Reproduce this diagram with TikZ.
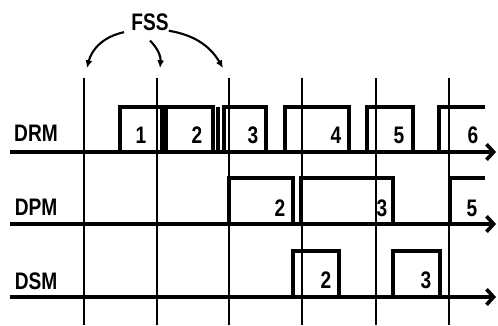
\documentclass[tikz,border=0pt]{standalone}
\usepackage{fontspec}
\setmainfont{Liberation Sans}[FakeStretch=0.8]
\usetikzlibrary{arrows.meta}

\begin{document}
\begin{tikzpicture}[x=0.025cm,y=0.025cm,
  every node/.style={font=\fontsize{17}{17}\selectfont\bfseries,inner sep=0pt},
  sig/.style={line width=2.6pt},
  gridline/.style={line width=1.3pt},
  axis/.style={line width=2.6pt,-{Straight Barb[length=5pt,width=11pt]}},
  fssarrow/.style={line width=1.5pt,-{Latex[length=5.5pt,width=5pt]}}]
\useasboundingbox (0,0) rectangle (498,-325);
%frame boundaries
\foreach \x in {84,157,229,302,376,449} \draw[gridline] (\x,-78)--(\x,-325);
\path (150,-22) node(fss){FSS}
(36,-133) node(drm){DRM}
(36,-207) node(dpm){DPM}
(36,-281) node(dsm){DSM};
\coordinate (f1) at (87,-68);
\coordinate (f2) at (160,-68);
\coordinate (f3) at (223,-68);
\draw[fssarrow]([xshift=-5pt,yshift=-1pt]fss.south west) to[bend right=32] (f1);
\draw[fssarrow]([yshift=-7pt]fss.south) to[bend left=25] (f2);
\draw[fssarrow](fss.south east) to[bend left=25] (f3);
%DRM
\foreach \a/\b/\n/\t in {120/162/1/141,166/213/2/197,224/266/3/253,285/349/4/336,367/413/5/399}{
  \draw[sig](\a,-152)|-(\b,-107)--(\b,-152);
  \path (\t,-135) node(drm\n){\n};}
\draw[sig](218,-107)--(218,-152);
\draw[sig](439,-152)|-(485,-107);
\path (473,-135) node(drm6){6};
%DPM
\draw[sig](229,-224)|-(293,-178)--(293,-224);
\path (280,-208) node(dpm2){2};
\draw[sig](301,-224)|-(393,-178)--(393,-224);
\path (382,-208) node(dpm3){3};
\draw[sig](450,-224)|-(485,-178);
\path (472,-208) node(dpm5){5};
%DSM
\draw[sig](293,-297)|-(339,-251)--(339,-297);
\path (326,-280) node(dsm2){2};
\draw[sig](393,-297)|-(440,-251)--(440,-297);
\path (426,-280) node(dsm3){3};
%axes
\coordinate (a1) at (10,-152); \coordinate (b1) at (496,-152);
\coordinate (a2) at (10,-224); \coordinate (b2) at (496,-224);
\coordinate (a3) at (10,-297); \coordinate (b3) at (496,-297);
\draw[axis](a1)--(b1);
\draw[axis](a2)--(b2);
\draw[axis](a3)--(b3);
\end{tikzpicture}
\end{document}
